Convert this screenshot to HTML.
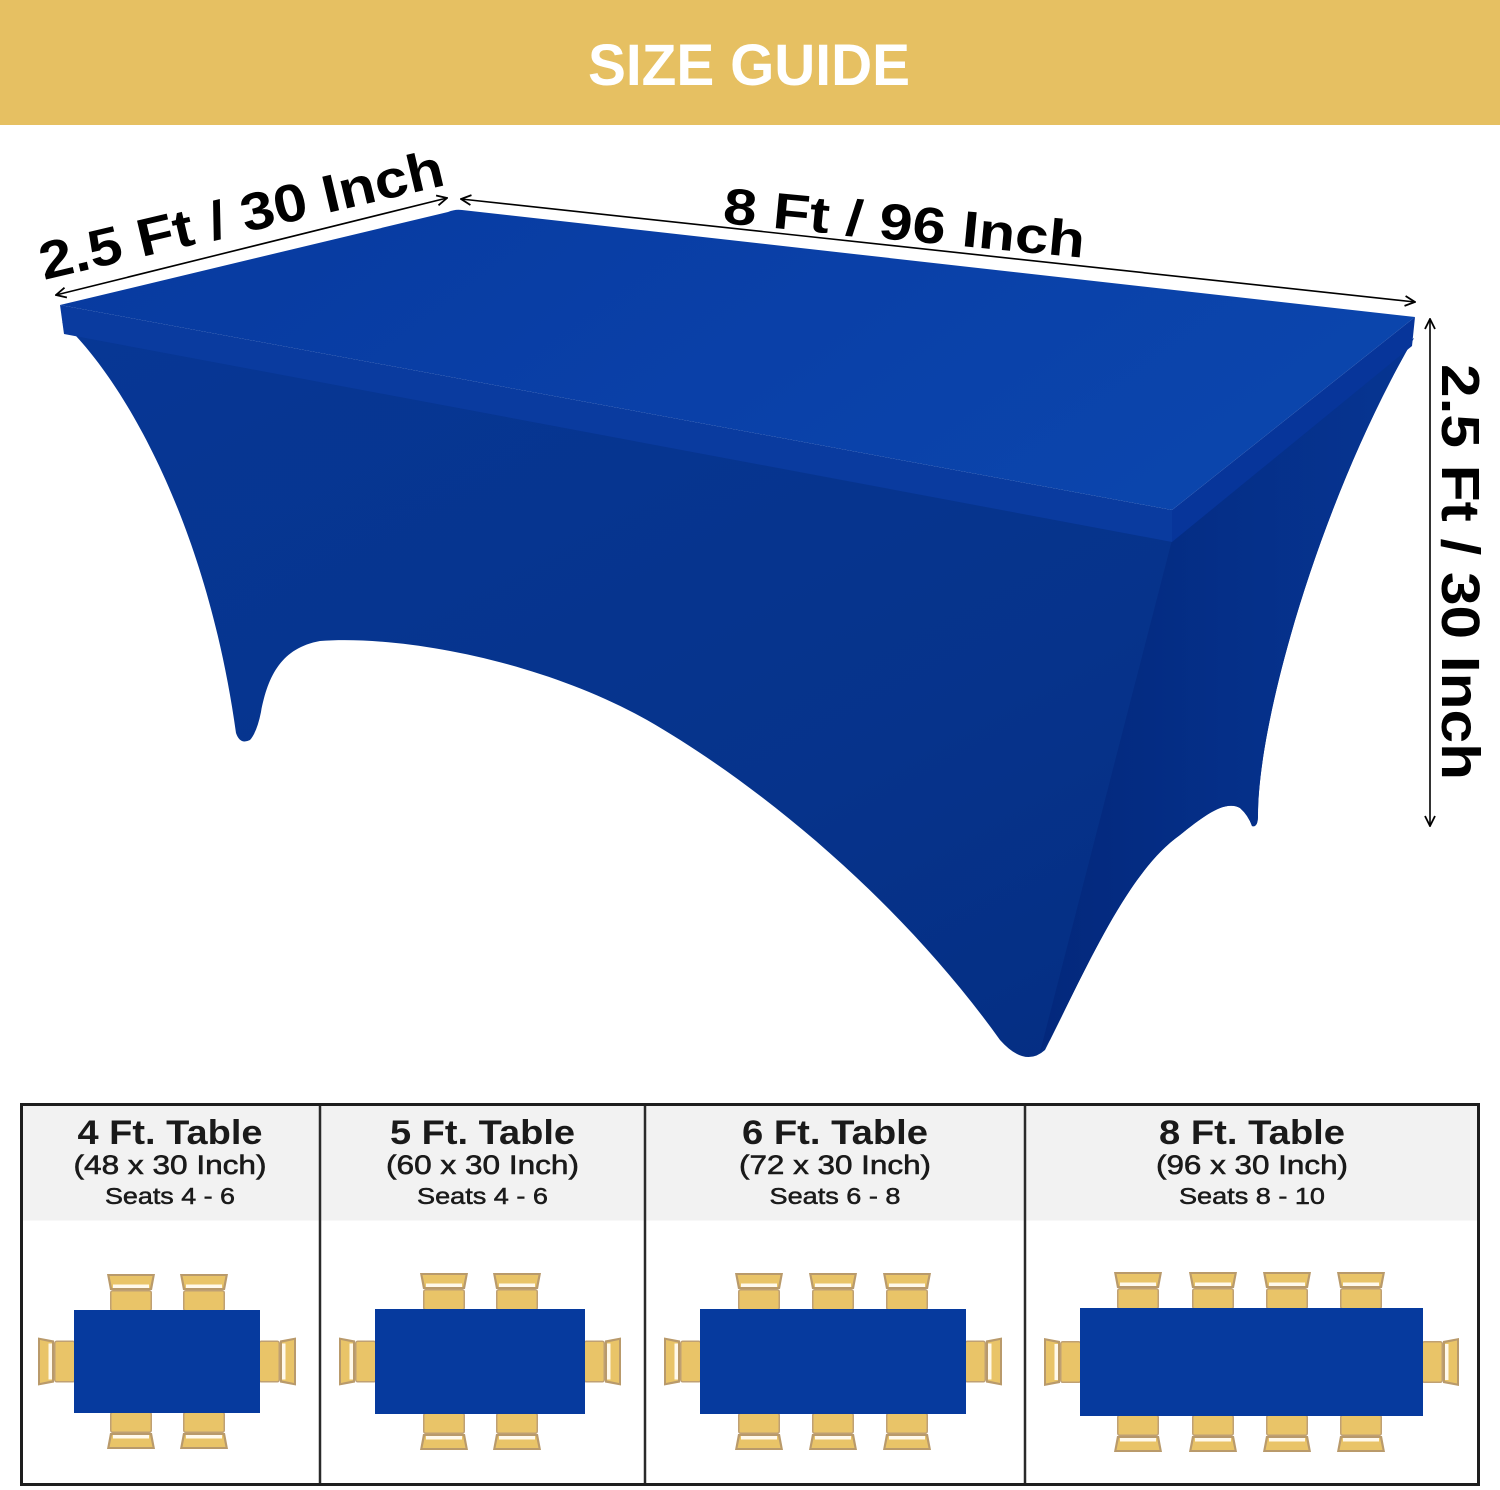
<!DOCTYPE html>
<html>
<head>
<meta charset="utf-8">
<style>
  html, body { margin: 0; padding: 0; background: #ffffff; }
  svg { display: block; }
  text { font-family: "Liberation Sans", "DejaVu Sans", sans-serif; }
</style>
</head>
<body>
<svg width="1500" height="1490" viewBox="0 0 1500 1490" xmlns="http://www.w3.org/2000/svg">
  <defs>
    <linearGradient id="topG" x1="0" y1="0" x2="1" y2="0.3">
      <stop offset="0" stop-color="#073a9f"/>
      <stop offset="0.6" stop-color="#0a40a8"/>
      <stop offset="1" stop-color="#0b45ac"/>
    </linearGradient>
    <linearGradient id="frontG" x1="0" y1="0" x2="1" y2="1">
      <stop offset="0" stop-color="#073795"/>
      <stop offset="0.6" stop-color="#06338b"/>
      <stop offset="1" stop-color="#042c80"/>
    </linearGradient>
    <linearGradient id="sideG" x1="0" y1="0" x2="1" y2="0">
      <stop offset="0" stop-color="#03287c"/>
      <stop offset="0.5" stop-color="#052f88"/>
      <stop offset="1" stop-color="#063592"/>
    </linearGradient>
    <marker id="arr" viewBox="0 0 12 12" refX="11" refY="6" markerWidth="12" markerHeight="12" markerUnits="userSpaceOnUse" orient="auto-start-reverse">
      <path d="M1,1 L11,6 L1,11" fill="none" stroke="#000" stroke-width="1.8"/>
    </marker>
    <g id="ch">
      <path d="M0,0 H48 L45,16 H3 Z" fill="#b99a6b"/>
      <path d="M2.5,2 H45.5 L43,14 H5 Z" fill="#e9c468"/>
      <rect x="6" y="10.5" width="36" height="3.5" fill="#fff9ea"/>
      <rect x="3.75" y="16.75" width="40.5" height="20" rx="2" fill="#e9c468" stroke="#bfa073" stroke-width="1.5"/>
    </g>
  </defs>

  <!-- Header band -->
  <rect x="0" y="0" width="1500" height="125" fill="#e6c062"/>
  <text x="749" y="85" font-size="58" font-weight="bold" fill="#ffffff" text-anchor="middle" textLength="322" lengthAdjust="spacingAndGlyphs">SIZE GUIDE</text>

  <!-- Big table: skirt silhouette (front face) -->
  <path d="M62,322
           C115,370 205,510 236,733
           Q240,745 250,740
           Q257,732 261,712
           C268,675 282,648 320,641
           C400,635 540,660 647,720
           C760,785 900,900 1000,1040
           Q1025,1068 1045,1050
           L1050,1040
           C1090,960 1130,870 1180,835
           C1205,815 1225,800 1240,808
           Q1248,815 1252,826
           Q1258,828 1258,815
           C1258,720 1320,500 1414,338
           L1172,530 Z" fill="url(#frontG)"/>

  <!-- Side (short end) face -->
  <path d="M1172,540 L1414,338
           C1320,500 1258,720 1258,815
           Q1258,828 1252,826
           Q1248,815 1240,808
           C1225,800 1205,815 1180,835
           C1130,870 1090,960 1050,1040
           L1040,1052 Z" fill="url(#sideG)"/>

  <!-- Top rim bands -->
  <path d="M60,305 L1172,510 L1172,542 L64,334 Z" fill="#0a3b9f"/>
  <path d="M1415,317 L1172,510 L1172,542 L1412,346 Z" fill="#07359a"/>
  <!-- Top surface -->
  <path d="M60,305 L448,212 Q455,209 462,210 L1415,317 L1172,510 Z" fill="url(#topG)"/>

  <!-- Dimension arrows -->
  <line x1="56" y1="295" x2="447" y2="198" stroke="#000" stroke-width="1.6" marker-start="url(#arr)" marker-end="url(#arr)"/>
  <line x1="461" y1="199" x2="1415" y2="302" stroke="#000" stroke-width="1.6" marker-start="url(#arr)" marker-end="url(#arr)"/>
  <line x1="1430" y1="319" x2="1430" y2="826" stroke="#000" stroke-width="1.6" marker-start="url(#arr)" marker-end="url(#arr)"/>

  <!-- Dimension labels -->
  <text transform="translate(44,280) rotate(-13.3)" font-size="53" font-weight="bold" fill="#000" textLength="414" lengthAdjust="spacingAndGlyphs">2.5 Ft / 30 Inch</text>
  <text transform="translate(722,223) rotate(5.5)" font-size="51" font-weight="bold" fill="#000" textLength="363" lengthAdjust="spacingAndGlyphs">8 Ft / 96 Inch</text>
  <text transform="translate(1442,364) rotate(90)" font-size="54" font-weight="bold" fill="#000" textLength="416" lengthAdjust="spacingAndGlyphs">2.5 Ft / 30 Inch</text>

  <!-- Bottom table frame -->
  <rect x="21.5" y="1104.5" width="1457" height="380" fill="#ffffff"/>
  <rect x="21.5" y="1104.5" width="1457" height="116" fill="#f2f2f2"/>
  <line x1="320" y1="1104" x2="320" y2="1486" stroke="#2a2a2a" stroke-width="2.5"/>
  <line x1="645" y1="1104" x2="645" y2="1486" stroke="#2a2a2a" stroke-width="2.5"/>
  <line x1="1025" y1="1104" x2="1025" y2="1486" stroke="#2a2a2a" stroke-width="2.5"/>
  <rect x="21.5" y="1104.5" width="1457" height="380" fill="none" stroke="#1e1e1e" stroke-width="3"/>

  <!-- Header texts -->
  <g fill="#1a1a1a" text-anchor="middle">
    <text x="170" y="1144" font-size="34" font-weight="bold" textLength="185" lengthAdjust="spacingAndGlyphs">4 Ft. Table</text>
    <text x="170" y="1174" font-size="27" stroke="#1a1a1a" stroke-width="0.6" textLength="193" lengthAdjust="spacingAndGlyphs">(48 x 30 Inch)</text>
    <text x="170" y="1204" font-size="23" stroke="#1a1a1a" stroke-width="0.5" textLength="130" lengthAdjust="spacingAndGlyphs">Seats 4 - 6</text>

    <text x="482.5" y="1144" font-size="34" font-weight="bold" textLength="185" lengthAdjust="spacingAndGlyphs">5 Ft. Table</text>
    <text x="482.5" y="1174" font-size="27" stroke="#1a1a1a" stroke-width="0.6" textLength="193" lengthAdjust="spacingAndGlyphs">(60 x 30 Inch)</text>
    <text x="482.5" y="1204" font-size="23" stroke="#1a1a1a" stroke-width="0.5" textLength="131" lengthAdjust="spacingAndGlyphs">Seats 4 - 6</text>

    <text x="835" y="1144" font-size="34" font-weight="bold" textLength="186" lengthAdjust="spacingAndGlyphs">6 Ft. Table</text>
    <text x="835" y="1174" font-size="27" stroke="#1a1a1a" stroke-width="0.6" textLength="192" lengthAdjust="spacingAndGlyphs">(72 x 30 Inch)</text>
    <text x="835" y="1204" font-size="23" stroke="#1a1a1a" stroke-width="0.5" textLength="131" lengthAdjust="spacingAndGlyphs">Seats 6 - 8</text>

    <text x="1252" y="1144" font-size="34" font-weight="bold" textLength="186" lengthAdjust="spacingAndGlyphs">8 Ft. Table</text>
    <text x="1252" y="1174" font-size="27" stroke="#1a1a1a" stroke-width="0.6" textLength="192" lengthAdjust="spacingAndGlyphs">(96 x 30 Inch)</text>
    <text x="1252" y="1204" font-size="23" stroke="#1a1a1a" stroke-width="0.5" textLength="146" lengthAdjust="spacingAndGlyphs">Seats 8 - 10</text>
  </g>

  <!-- Panel 1: 4 ft -->
  <use href="#ch" transform="translate(107,1274)"/>
  <use href="#ch" transform="translate(180,1274)"/>
  <use href="#ch" transform="translate(107,1449) scale(1,-1)"/>
  <use href="#ch" transform="translate(180,1449) scale(1,-1)"/>
  <use href="#ch" transform="translate(38,1337.5) matrix(0,1,1,0,0,0)"/>
  <use href="#ch" transform="translate(296,1337.5) matrix(0,1,-1,0,0,0)"/>
  <rect x="74" y="1310" width="186" height="103" fill="#063a9e"/>

  <!-- Panel 2: 5 ft -->
  <use href="#ch" transform="translate(420,1273)"/>
  <use href="#ch" transform="translate(493,1273)"/>
  <use href="#ch" transform="translate(420,1450) scale(1,-1)"/>
  <use href="#ch" transform="translate(493,1450) scale(1,-1)"/>
  <use href="#ch" transform="translate(339,1337.5) matrix(0,1,1,0,0,0)"/>
  <use href="#ch" transform="translate(621,1337.5) matrix(0,1,-1,0,0,0)"/>
  <rect x="375" y="1309" width="210" height="105" fill="#063a9e"/>

  <!-- Panel 3: 6 ft -->
  <use href="#ch" transform="translate(735,1273)"/>
  <use href="#ch" transform="translate(809,1273)"/>
  <use href="#ch" transform="translate(883,1273)"/>
  <use href="#ch" transform="translate(735,1450) scale(1,-1)"/>
  <use href="#ch" transform="translate(809,1450) scale(1,-1)"/>
  <use href="#ch" transform="translate(883,1450) scale(1,-1)"/>
  <use href="#ch" transform="translate(664,1337.5) matrix(0,1,1,0,0,0)"/>
  <use href="#ch" transform="translate(1002,1337.5) matrix(0,1,-1,0,0,0)"/>
  <rect x="700" y="1309" width="266" height="105" fill="#063a9e"/>

  <!-- Panel 4: 8 ft -->
  <use href="#ch" transform="translate(1114,1272)"/>
  <use href="#ch" transform="translate(1189,1272)"/>
  <use href="#ch" transform="translate(1263,1272)"/>
  <use href="#ch" transform="translate(1337,1272)"/>
  <use href="#ch" transform="translate(1114,1452) scale(1,-1)"/>
  <use href="#ch" transform="translate(1189,1452) scale(1,-1)"/>
  <use href="#ch" transform="translate(1263,1452) scale(1,-1)"/>
  <use href="#ch" transform="translate(1337,1452) scale(1,-1)"/>
  <use href="#ch" transform="translate(1044,1338) matrix(0,1,1,0,0,0)"/>
  <use href="#ch" transform="translate(1459,1338) matrix(0,1,-1,0,0,0)"/>
  <rect x="1080" y="1308" width="343" height="108" fill="#063a9e"/>
</svg>
</body>
</html>
